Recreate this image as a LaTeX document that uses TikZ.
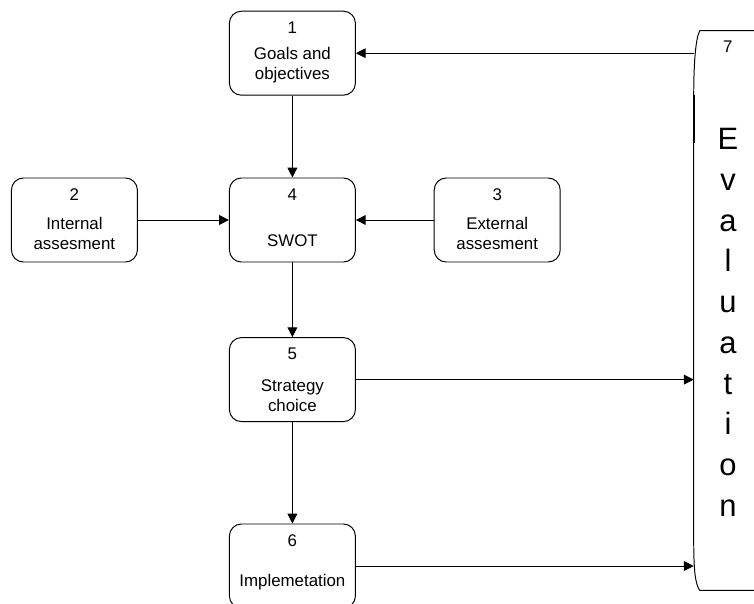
\documentclass[tikz,border=0pt]{standalone}
\usepackage{fontspec}
\setmainfont{Liberation Sans}
\usetikzlibrary{arrows.meta, positioning, calc}

\begin{document}
\begin{tikzpicture}[
    stage/.style={rectangle, rounded corners=0.3cm, draw, line width=0.7pt, minimum width=3.15cm, minimum height=2.1cm, inner sep=0pt},
    num/.style={font=\fontsize{12}{14.2}\selectfont, inner sep=0pt},
    txt/.style={font=\fontsize{12}{14.2}\selectfont, align=center, inner sep=0pt},
    evaltxt/.style={font=\fontsize{22}{29}\selectfont, align=center, inner sep=0pt},
    arrow/.style={-{Triangle[length=7pt, width=7pt]}, line width=0.7pt}
]
\useasboundingbox (0,0) rectangle (18.85,-15.1);
\clip (0,0) rectangle (18.85,-15.1);

% Stage boxes
\node[stage] (goals) at (7.31,-1.33) {};
\node[stage] (internal) at (1.86,-5.5) {};
\node[stage] (swot) at (7.31,-5.5) {};
\node[stage] (external) at (12.43,-5.5) {};
\node[stage] (strategy) at (7.31,-9.49) {};
\node[stage] (implement) at (7.31,-14.15) {};

% Numbers and labels
\node[num] at ([yshift=-0.425cm]goals.north) {1};
\node[txt] at ([yshift=-1.37cm]goals.north) {Goals and\\objectives};
\node[num] at ([yshift=-0.425cm]internal.north) {2};
\node[txt] at ([yshift=-1.4cm]internal.north) {Internal\\assesment};
\node[num] at ([yshift=-0.425cm]external.north) {3};
\node[txt] at ([yshift=-1.4cm]external.north) {External\\assesment};
\node[num] at ([yshift=-0.425cm]swot.north) {4};
\node[txt] at ([yshift=-1.58cm]swot.north) {SWOT};
\node[num] at ([yshift=-0.425cm]strategy.north) {5};
\node[txt] at ([yshift=-1.46cm]strategy.north) {Strategy\\choice};
\node[num] at ([yshift=-0.425cm]implement.north) {6};
\node[txt] at ([yshift=-1.46cm]implement.north) {Implemetation};

% Evaluation bracket
\node[inner sep=0pt, minimum width=2cm, minimum height=13.975cm] (eval) at (18.35,-7.7625) {};
\draw[line width=0.7pt] (eval.north east) -- ([xshift=0.15cm]eval.north west)
    .. controls ([xshift=0.04cm,yshift=-0.2cm]eval.north west) and ([yshift=-0.9cm]eval.north west) .. ([yshift=-1.6cm]eval.north west)
    -- ([yshift=1.2cm]eval.south west)
    .. controls ([yshift=0.5cm]eval.south west) and ([xshift=0.04cm,yshift=0.15cm]eval.south west) .. ([xshift=0.15cm]eval.south west)
    -- (eval.south east);
\draw[line width=1.5pt] ([yshift=-1.6cm]eval.north west) -- ([yshift=-2.8cm]eval.north west);
\node[num] at ([xshift=0.85cm, yshift=-0.41cm]eval.north west) {7};
\node[evaltxt, anchor=north] at (18.2,-3.2) {E\\v\\a\\l\\u\\a\\t\\i\\o\\n};

% Connectors
\draw[arrow] (eval.west |- goals.east) -- (goals.east);
\draw[arrow] (goals) -- (swot);
\draw[arrow] (internal) -- (swot);
\draw[arrow] (external) -- (swot);
\draw[arrow] (swot) -- (strategy);
\draw[arrow] (strategy) -- (implement);
\draw[arrow] (strategy.east) -- (strategy.east -| eval.west);
\draw[arrow] (implement.east) -- (implement.east -| eval.west);

\end{tikzpicture}
\end{document}
